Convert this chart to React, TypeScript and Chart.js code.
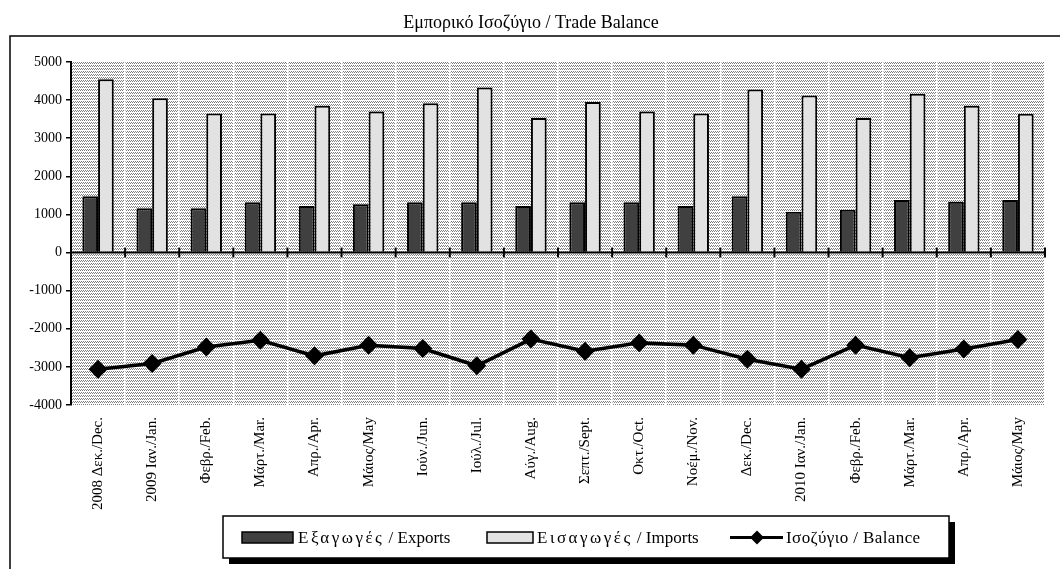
import React, { useEffect, useRef } from "react";
import { Chart, registerables } from "chart.js";

Chart.register(...registerables);

const TITLE = "Εμπορικό Ισοζύγιο / Trade Balance";

const categories = [
  "2008 Δεκ./Dec.",
  "2009 Ιαν./Jan.",
  "Φεβρ./Feb.",
  "Μάρτ./Mar.",
  "Απρ./Apr.",
  "Μάιος/May",
  "Ιούν./Jun.",
  "Ιούλ./Jul.",
  "Αύγ./Aug.",
  "Σεπτ./Sept.",
  "Οκτ./Oct.",
  "Νοέμ./Nov.",
  "Δεκ./Dec.",
  "2010 Ιαν./Jan.",
  "Φεβρ./Feb.",
  "Μάρτ./Mar.",
  "Απρ./Apr.",
  "Μάιος/May",
];

const exportsValues = [1480, 1160, 1160, 1320, 1220, 1270, 1320, 1320, 1220, 1320, 1320, 1220, 1480, 1070, 1120, 1380, 1330, 1380];
const importsValues = [4550, 4050, 3650, 3650, 3850, 3700, 3920, 4330, 3530, 3950, 3700, 3650, 4280, 4120, 3530, 4170, 3850, 3640];
const balanceValues = [-3060, -2910, -2480, -2300, -2710, -2430, -2520, -2970, -2270, -2590, -2370, -2430, -2800, -3060, -2430, -2760, -2530, -2280];

const yMin = -4000;
const yMax = 5000;
const yStep = 1000;

const legendExports = "Εξαγωγές";
const legendExportsEn = " / Exports";
const legendImports = "Εισαγωγές";
const legendImportsEn = " / Imports";
const legendBalance = "Ισοζύγιο / Balance";

const FONT = "'Liberation Serif', 'Times New Roman', serif";

function makePattern(ctx: CanvasRenderingContext2D) {
  const c = document.createElement("canvas");
  c.width = 4;
  c.height = 3;
  const p = c.getContext("2d")!;
  p.fillStyle = "#ffffff";
  p.fillRect(0, 0, 4, 3);
  p.fillStyle = "#808080";
  p.fillRect(0, 0, 1, 1);
  p.fillRect(2, 0, 1, 1);
  p.fillRect(1, 2, 1, 1);
  p.fillRect(3, 2, 1, 1);
  return ctx.createPattern(c, "repeat");
}

const decorPlugin = {
  id: "decor",
  beforeDraw(chart: any) {
    const { ctx, chartArea } = chart;
    ctx.save();
    // frame
    ctx.strokeStyle = "#000";
    ctx.lineWidth = 1.5;
    ctx.beginPath();
    ctx.moveTo(10, chart.height);
    ctx.lineTo(10, 36);
    ctx.lineTo(chart.width, 36);
    ctx.stroke();
    // title
    ctx.fillStyle = "#000";
    ctx.font = `18px ${FONT}`;
    ctx.textAlign = "center";
    ctx.textBaseline = "alphabetic";
    ctx.fillText(TITLE, 531, 28);
    // plot background pattern
    const pat = makePattern(ctx);
    if (pat) {
      ctx.fillStyle = pat;
      ctx.fillRect(chartArea.left, chartArea.top, chartArea.right - chartArea.left, chartArea.bottom - chartArea.top);
    }
    ctx.restore();
  },
  afterDatasetsDraw(chart: any) {
    const { ctx, chartArea, scales } = chart;
    const y0 = scales.y.getPixelForValue(0);
    ctx.save();
    ctx.strokeStyle = "#000";
    ctx.lineWidth = 2;
    ctx.beginPath();
    ctx.moveTo(chartArea.left, y0);
    ctx.lineTo(chartArea.right, y0);
    ctx.stroke();
    const n = categories.length;
    for (let i = 1; i <= n; i++) {
      const x = i < n
        ? (scales.x.getPixelForValue(i - 1) + scales.x.getPixelForValue(i)) / 2
        : chartArea.right;
      ctx.beginPath();
      ctx.moveTo(x, y0 - 5);
      ctx.lineTo(x, y0 + 5);
      ctx.stroke();
    }
    ctx.restore();
  },
  afterDraw(chart: any) {
    const { ctx } = chart;
    ctx.save();
    // legend box with shadow
    const bx = 223, by = 516, bw = 726, bh = 42;
    ctx.fillStyle = "#000";
    ctx.fillRect(bx + 6, by + 6, bw, bh);
    ctx.fillStyle = "#fff";
    ctx.fillRect(bx, by, bw, bh);
    ctx.strokeStyle = "#000";
    ctx.lineWidth = 1.5;
    ctx.strokeRect(bx, by, bw, bh);

    const ty = 543;
    ctx.font = `17px ${FONT}`;
    ctx.textAlign = "left";
    ctx.textBaseline = "alphabetic";

    const drawText = (greek: string, en: string, x: number) => {
      ctx.fillStyle = "#000";
      (ctx as any).letterSpacing = "2.5px";
      ctx.fillText(greek, x, ty);
      const w = ctx.measureText(greek).width;
      (ctx as any).letterSpacing = "0px";
      ctx.fillText(en, x + w, ty);
    };

    // exports
    ctx.fillStyle = "#404040";
    ctx.fillRect(242, 532, 51, 11);
    ctx.strokeStyle = "#000";
    ctx.lineWidth = 1.5;
    ctx.strokeRect(242, 532, 51, 11);
    drawText(legendExports, legendExportsEn, 298);

    // imports
    ctx.fillStyle = "#e2e2e2";
    ctx.fillRect(487, 532, 46, 11);
    ctx.strokeRect(487, 532, 46, 11);
    drawText(legendImports, legendImportsEn, 537);

    // balance
    ctx.lineWidth = 3;
    ctx.beginPath();
    ctx.moveTo(730, 537.5);
    ctx.lineTo(783, 537.5);
    ctx.stroke();
    ctx.fillStyle = "#000";
    ctx.beginPath();
    ctx.moveTo(757, 530.5);
    ctx.lineTo(764, 537.5);
    ctx.lineTo(757, 544.5);
    ctx.lineTo(750, 537.5);
    ctx.closePath();
    ctx.fill();
    (ctx as any).letterSpacing = "0.4px";
    ctx.fillText(legendBalance, 786, ty);
    (ctx as any).letterSpacing = "0px";
    ctx.restore();
  },
};

export default function App() {
  const ref = useRef<HTMLCanvasElement | null>(null);

  useEffect(() => {
    if (!ref.current) return;
    const chart = new Chart(ref.current, {
      type: "bar",
      data: {
        labels: categories,
        datasets: [
          {
            type: "line",
            label: "Ισοζύγιο / Balance",
            data: balanceValues,
            borderColor: "#000",
            backgroundColor: "#000",
            borderWidth: 3.5,
            pointStyle: "rectRot",
            pointRadius: 7,
            pointBackgroundColor: "#000",
            pointBorderColor: "#000",
            tension: 0,
            order: 0,
          } as any,
          {
            type: "bar",
            label: "Εξαγωγές / Exports",
            data: exportsValues,
            backgroundColor: "#404040",
            borderColor: "#000",
            borderWidth: 2,
            barPercentage: 1,
            categoryPercentage: 0.58,
            order: 1,
          },
          {
            type: "bar",
            label: "Εισαγωγές / Imports",
            data: importsValues,
            backgroundColor: "#e2e2e2",
            borderColor: "#000",
            borderWidth: 2,
            barPercentage: 1,
            categoryPercentage: 0.58,
            order: 2,
          },
        ],
      },
      options: {
        responsive: false,
        animation: false,
        maintainAspectRatio: false,
        layout: { padding: { left: 0, right: 15, top: 62, bottom: 0 } },
        plugins: {
          legend: { display: false },
          title: { display: false },
          tooltip: { enabled: false },
        },
        scales: {
          x: {
            grid: { offset: true, color: "#ffffff", lineWidth: 1.5, drawTicks: false },
            border: { display: false },
            ticks: {
              autoSkip: false,
              minRotation: 90,
              maxRotation: 90,
              padding: 12,
              color: "#000",
              font: { family: FONT, size: 15 },
            },
            afterFit: (s: any) => {
              s.height = 164;
            },
          },
          y: {
            min: yMin,
            max: yMax,
            ticks: {
              stepSize: yStep,
              color: "#000",
              padding: 4,
              font: { family: FONT, size: 14 },
              callback: (v: any) => String(v),
            },
            grid: { drawOnChartArea: false, color: "#000", tickLength: 5, lineWidth: 1.5 },
            border: { display: true, color: "#000", width: 2 },
            afterFit: (s: any) => {
              s.width = 71;
            },
          },
        },
      },
      plugins: [decorPlugin],
    });
    return () => chart.destroy();
  }, []);

  return (
    <div style={{ position: "fixed", left: 0, top: 0, width: 1060, height: 569, background: "#fff" }}>
      <canvas ref={ref} width={1060} height={569} style={{ display: "block", width: 1060, height: 569 }} />
    </div>
  );
}
